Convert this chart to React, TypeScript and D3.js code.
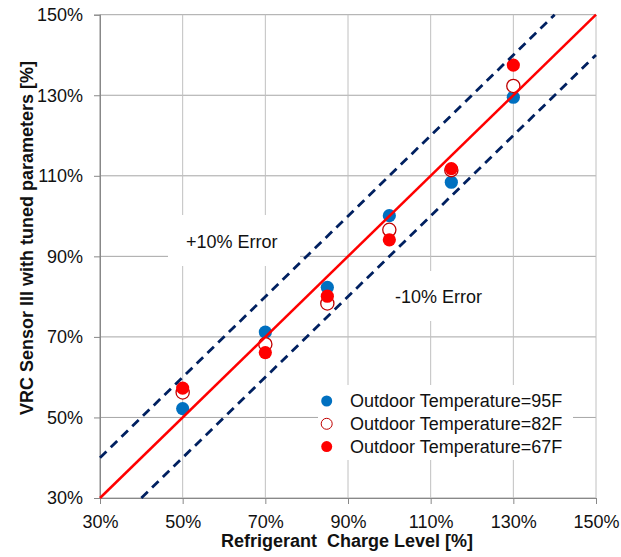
import React, { useRef, useEffect } from 'react';
import * as d3 from 'd3';

// charge levels (x, %) and sensor readings (y, %)
const chargeLevels = [50, 70, 85, 100, 115, 130];
const temp95F = [52.2, 71.2, 82.3, 100.1, 108.4, 129.5];
const temp82F = [56.2, 68.2, 78.3, 96.6, 111.4, 132.3];
const temp67F = [57.3, 66.1, 80.1, 94.1, 111.8, 137.5];
const ticks = [30, 50, 70, 90, 110, 130, 150];

const seriesNames = ['Outdoor Temperature=95F', 'Outdoor Temperature=82F', 'Outdoor Temperature=67F'];

const W = 621;
const H = 557;
const FONT = '"Liberation Sans", Arial, sans-serif';
const FS = 18;

const App = () => {
  const ref = useRef<SVGSVGElement>(null);

  useEffect(() => {
    const svg = d3.select(ref.current);
    svg.selectAll('*').remove();

    const left = 100, right = 596, top = 14.7, bottom = 498;

    const x = d3.scaleLinear().domain([30, 150]).range([left, right]);
    const y = d3.scaleLinear().domain([30, 150]).range([bottom, top]);

    // grid
    const grid = svg.append('g');
    grid.selectAll('.hg').data(ticks).enter().append('line')
      .attr('x1', left).attr('x2', right)
      .attr('y1', d => y(d)).attr('y2', d => y(d))
      .attr('stroke', '#a6a6a6').attr('stroke-width', 1);
    grid.selectAll('.vg').data(ticks).enter().append('line')
      .attr('y1', top).attr('y2', bottom)
      .attr('x1', d => x(d)).attr('x2', d => x(d))
      .attr('stroke', d => (d === 30 ? '#888' : '#c0c0c0')).attr('stroke-width', 1);

    // axes
    const yAxis = svg.append('g')
      .attr('transform', `translate(${left},0)`)
      .call(d3.axisLeft(y).tickValues(ticks).tickSize(6).tickPadding(11).tickFormat(d => `${d}%`));
    const xAxis = svg.append('g')
      .attr('transform', `translate(0,${bottom})`)
      .call(d3.axisBottom(x).tickValues(ticks).tickSize(6).tickPadding(11).tickFormat(d => `${d}%`));
    [yAxis, xAxis].forEach(a => {
      a.select('.domain').attr('stroke', '#888');
      a.selectAll('.tick line').attr('stroke', '#888');
      a.selectAll('.tick text').attr('font-family', FONT).attr('font-size', FS).attr('fill', '#111');
    });

    // white label backgrounds hiding the grid
    const boxes = [
      { x0: 168, y0: 215, x1: 300, y1: 266 },
      { x0: 368, y0: 271, x1: 500, y1: 321 },
      { x0: 318, y0: 385, x1: 573, y1: 460 },
    ];
    svg.selectAll('.box').data(boxes).enter().append('rect')
      .attr('x', d => d.x0).attr('y', d => d.y0)
      .attr('width', d => d.x1 - d.x0).attr('height', d => d.y1 - d.y0)
      .attr('fill', '#fff');

    // points
    const pts = svg.append('g');
    const drawSeries = (vals: number[], fill: string, stroke: string) => {
      pts.append('g').selectAll('circle').data(vals).enter().append('circle')
        .attr('cx', (d, i) => x(chargeLevels[i]))
        .attr('cy', d => y(d))
        .attr('r', 6.6)
        .attr('fill', fill)
        .attr('stroke', stroke)
        .attr('stroke-width', fill === '#fff' ? 1.3 : 0);
    };
    drawSeries(temp95F, '#0070c0', 'none');
    drawSeries(temp82F, '#fff', '#c00000');
    drawSeries(temp67F, '#ff0000', 'none');

    // reference lines
    const line = d3.line<[number, number]>().x(d => x(d[0])).y(d => y(d[1]));
    svg.append('path').datum([[30, 40], [140, 150]] as [number, number][])
      .attr('d', line).attr('fill', 'none')
      .attr('stroke', '#002060').attr('stroke-width', 2.8).attr('stroke-dasharray', '9,6');
    svg.append('path').datum([[40, 30], [150, 140]] as [number, number][])
      .attr('d', line).attr('fill', 'none')
      .attr('stroke', '#002060').attr('stroke-width', 2.8).attr('stroke-dasharray', '9,6');
    svg.append('path').datum([[30, 30], [150, 150]] as [number, number][])
      .attr('d', line).attr('fill', 'none')
      .attr('stroke', '#ff0000').attr('stroke-width', 2.5);

    // annotations
    svg.append('text').attr('x', 186).attr('y', 248).text('+10% Error')
      .attr('font-family', FONT).attr('font-size', FS).attr('fill', '#111');
    svg.append('text').attr('x', 395).attr('y', 303).text('-10% Error')
      .attr('font-family', FONT).attr('font-size', FS).attr('fill', '#111');

    // legend
    const leg = svg.append('g');
    const legStyles = [
      { fill: '#0070c0', stroke: 'none' },
      { fill: '#fff', stroke: '#c00000' },
      { fill: '#ff0000', stroke: 'none' },
    ];
    seriesNames.forEach((name, i) => {
      const cy = 401 + i * 22.8;
      leg.append('circle').attr('cx', 326.7).attr('cy', cy).attr('r', 5.5)
        .attr('fill', legStyles[i].fill).attr('stroke', legStyles[i].stroke).attr('stroke-width', 1);
      leg.append('text').attr('x', 350).attr('y', cy).attr('dy', '0.35em').text(name)
        .attr('font-family', FONT).attr('font-size', FS).attr('fill', '#111');
    });

    // axis titles
    svg.append('text').attr('x', 347).attr('y', 547).attr('text-anchor', 'middle')
      .attr('font-family', FONT).attr('font-size', FS).attr('font-weight', 'bold').attr('fill', '#111')
      .attr('xml:space', 'preserve').style('white-space', 'pre')
      .text('Refrigerant  Charge Level [%]');
    svg.append('text').attr('transform', 'translate(33,238) rotate(-90)').attr('text-anchor', 'middle')
      .attr('font-family', FONT).attr('font-size', FS).attr('font-weight', 'bold').attr('fill', '#111')
      .text('VRC Sensor III with tuned parameters [%]');
  }, []);

  return (
    <div style={{ position: 'absolute', left: 0, top: 0, width: W, height: H, background: '#fff' }}>
      <svg ref={ref} width={W} height={H} style={{ display: 'block' }} />
    </div>
  );
};

export default App;
